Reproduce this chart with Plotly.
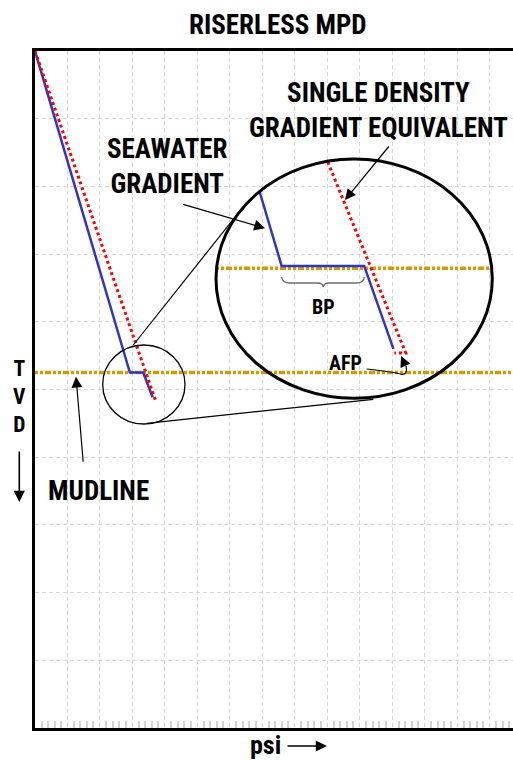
import plotly.graph_objects as go

# ---------------- data (grid units: psi index, TVD index) ----------------
mudline_depth = 4.75
sw_psi = [0.0, 2.92, 3.33, 3.62]
sw_tvd = [0.0, 4.75, 4.75, 5.115]
sdge_psi = [0.0, 3.72]
sdge_tvd = [0.0, 5.18]

# zoomed-in view inside the big ellipse
zoom_sw_psi = [6.92, 7.59, 10.13, 11.03]
zoom_sw_tvd = [2.09, 3.175, 3.175, 4.40]
zoom_sdge_psi = [9.01, 11.41, 11.06]
zoom_sdge_tvd = [1.64, 4.46, 4.46]
zoom_mud_psi = [5.57, 14.06]
zoom_mud_tvd = [3.21, 3.21]

X_MAX = 14.71
Y_MAX = 10

W, H = 513, 760
ML, MT, MB, MR = 35, 51, 32, 0
PW = W - ML - MR
PH = H - MT - MB


def dx(p):  # pixel -> data x (decorations)
    return (p - ML) / PW * X_MAX


def dy(p):  # pixel -> data y (decorations)
    return (p - MT) / PH * Y_MAX


def qx(p):  # pixel -> paper x
    return (p - ML) / PW


def qy(p):  # pixel -> paper y
    return 1 - (p - MT) / PH


BLUE = "rgb(51,51,204)"
RED = "rgb(255,0,0)"
GOLD = "rgb(210,155,0)"
FONT = "Roboto Condensed, Open Sans Condensed, Liberation Sans, Arial, sans-serif"
MUD_DASH = "3px,2px,3px,2px,6px,2px"

fig = go.Figure()

fig.add_trace(go.Scatter(x=[0, X_MAX], y=[mudline_depth, mudline_depth], mode="lines",
                         line=dict(color=GOLD, width=3.5, dash=MUD_DASH), hoverinfo="skip"))
fig.add_trace(go.Scatter(x=zoom_mud_psi, y=zoom_mud_tvd, mode="lines",
                         line=dict(color=GOLD, width=3.5, dash=MUD_DASH), hoverinfo="skip"))
fig.add_trace(go.Scatter(x=sw_psi, y=sw_tvd, mode="lines", line=dict(color=BLUE, width=2.5)))
fig.add_trace(go.Scatter(x=zoom_sw_psi, y=zoom_sw_tvd, mode="lines", line=dict(color=BLUE, width=2.5)))
fig.add_trace(go.Scatter(x=sdge_psi, y=sdge_tvd, mode="lines", line=dict(color=RED, width=3, dash="dot")))
fig.add_trace(go.Scatter(x=zoom_sdge_psi, y=zoom_sdge_tvd, mode="lines", line=dict(color=RED, width=3, dash="dot")))

shapes = [
    dict(type="circle", xref="x", yref="y", x0=dx(102.7), x1=dx(185), y0=dy(345), y1=dy(424),
         line=dict(color="black", width=1.3)),
    dict(type="circle", xref="x", yref="y", x0=dx(216), x1=dx(492.3), y0=dy(159), y1=dy(398.3),
         line=dict(color="black", width=3)),
    dict(type="line", xref="x", yref="y", x0=dx(133.3), y0=dy(345), x1=dx(243), y1=dy(207),
         line=dict(color="black", width=1.2)),
    dict(type="line", xref="x", yref="y", x0=dx(146.7), y0=dy(423.3), x1=dx(373.3), y1=dy(399.3),
         line=dict(color="black", width=1.2)),
    dict(type="path", xref="x", yref="y",
         path=(f"M {dx(281.7)},{dy(277)} Q {dx(282)},{dy(283)} {dx(290)},{dy(283)} L {dx(318)},{dy(283)} "
               f"Q {dx(322.5)},{dy(283)} {dx(323.3)},{dy(287)} Q {dx(324)},{dy(283)} {dx(329)},{dy(283)} "
               f"L {dx(356)},{dy(283)} Q {dx(364)},{dy(283)} {dx(364.3)},{dy(277)}"),
         line=dict(color="rgb(110,110,110)", width=1.3)),
    dict(type="path", xref="x", yref="y",
         path=(f"M {dx(366.7)},{dy(369)} Q {dx(395)},{dy(372)} {dx(402)},{dy(374.5)} "
               f"Q {dx(408)},{dy(374)} {dx(406)},{dy(366)}"),
         line=dict(color="black", width=1.2)),
]

ann = []


def text(t, xp, yp, size):
    ann.append(dict(text=t, x=qx(xp), y=qy(yp), xref="paper", yref="paper", showarrow=False,
                    xanchor="center", yanchor="middle",
                    font=dict(family=FONT, size=size, color="black", weight="bold")))


def arrow(x_tail, y_tail, x_head, y_head, size=1.0, width=1.2, head=2):
    ann.append(dict(text="", x=qx(x_head), y=qy(y_head), ax=x_tail - x_head, ay=y_tail - y_head,
                    xref="paper", yref="paper", axref="pixel", ayref="pixel", showarrow=True,
                    arrowhead=head, arrowsize=size, arrowwidth=width, arrowcolor="black"))


text("RISERLESS MPD", 277.5, 25, 27)
text("SINGLE DENSITY<br>GRADIENT EQUIVALENT", 378, 111, 27)
text("SEAWATER<br>GRADIENT", 167.5, 166, 27)
text("MUDLINE", 98.3, 491, 27)
text("BP", 323.3, 306.7, 20)
text("AFP", 345, 363.3, 20)
text("T<br>V<br>D", 19.3, 396, 21.5)
text("psi", 265, 745, 26)

arrow(181.7, 204, 265, 228.3, 1.8)
arrow(390, 145, 345, 200, 1.8)
arrow(83.3, 463.3, 76, 376.7, 1.8)
arrow(406, 367, 401, 356, 1.8)
arrow(19.3, 450, 19.3, 502, 1.4, 1.6)
arrow(286, 746, 327, 746, 1.4, 1.6)

fig.update_layout(
    width=W, height=H, margin=dict(l=ML, r=MR, t=MT, b=MB),
    paper_bgcolor="white", plot_bgcolor="white", showlegend=False,
    shapes=shapes, annotations=ann,
    xaxis=dict(range=[0, X_MAX], dtick=1, tick0=0, showticklabels=False, ticks="",
               showgrid=True, gridcolor="rgb(215,215,215)", gridwidth=1.3, griddash="4px,3px",
               showline=True, linecolor="black", linewidth=2.5, mirror=True, zeroline=False,
               minor=dict(ticks="inside", dtick=0.2, tick0=0, ticklen=7, tickcolor="rgb(210,210,210)",
                          tickwidth=1.5, showgrid=False)),
    yaxis=dict(range=[Y_MAX, 0], dtick=1, tick0=0, showticklabels=False, ticks="",
               showgrid=True, gridcolor="rgb(215,215,215)", gridwidth=1.3, griddash="4px,3px",
               showline=True, linecolor="black", linewidth=2.5, mirror=False, zeroline=False),
)

fig.write_html("out.html", config={"displayModeBar": False},
               post_script="document.body.style.margin='0';")
